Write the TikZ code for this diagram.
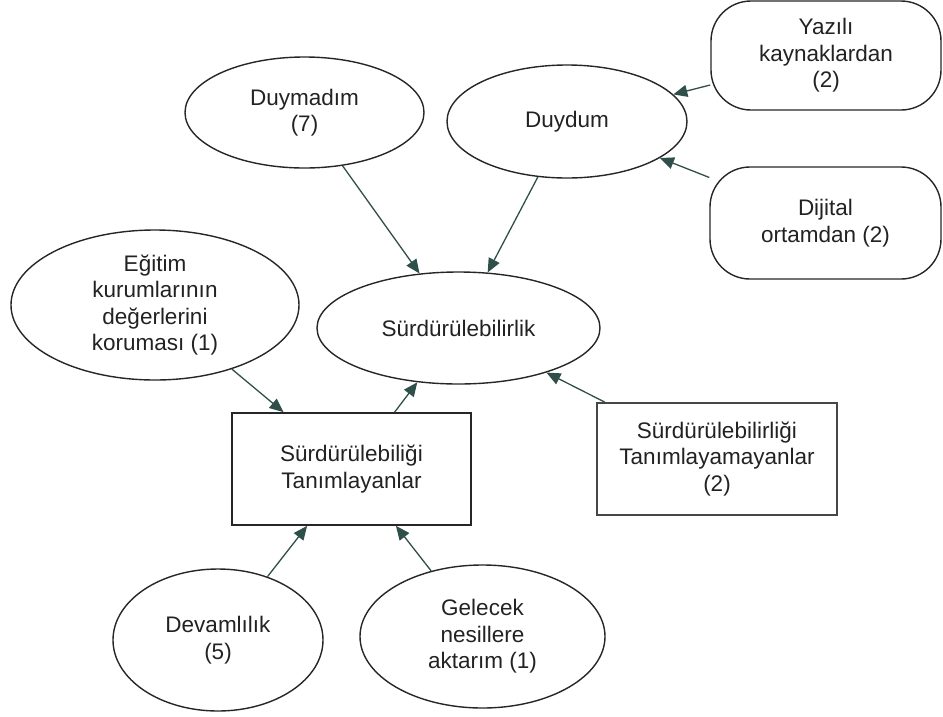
\documentclass[tikz,border=0pt]{standalone}
\usepackage{fontspec}
\setmainfont{Liberation Sans}
\usepackage{xcolor}
\usepackage{tikz}
\usetikzlibrary{shapes.geometric,arrows.meta}
\definecolor{oklar}{HTML}{2F4F4A}
\definecolor{cizgi}{HTML}{262626}
\definecolor{yazi}{HTML}{222222}

\begin{document}
\begin{tikzpicture}[x=1pt, y=-1pt,
  font=\fontsize{22.5}{26.5}\selectfont, text=yazi,
  elips/.style={draw=cizgi, ellipse, line width=1.4pt, inner sep=0pt, align=center},
  kutu/.style={draw=cizgi, rectangle, line width=1.6pt, inner sep=0pt, align=center},
  yuvarlak/.style={kutu, line width=1.4pt, rounded corners=40pt},
  ok/.style={color=oklar, draw, line width=1.3pt, -{Triangle[length=14pt,width=12pt]}}]
\useasboundingbox (0,0) rectangle (943,716);

\node[elips, minimum width=239pt, minimum height=111pt] (duymadim) at (304.5,112.5) {Duymadım\\(7)};
\node[elips, minimum width=240pt, minimum height=113pt] (duydum) at (567,121.5) {Duydum};
\node[yuvarlak, minimum width=230pt, minimum height=109pt] (yazili) at (826,55.5) {Yazılı\\kaynaklardan\\(2)};
\node[yuvarlak, minimum width=231pt, minimum height=112pt] (dijital) at (825.5,223) {Dijital\\ortamdan (2)};

\node[elips, minimum width=288pt, minimum height=150pt] (egitim) at (155,305) {Eğitim\\kurumlarının\\değerlerini\\koruması (1)};
\node[elips, minimum width=283pt, minimum height=112pt] (surd) at (458.5,328) {Sürdürülebilirlik};
\node[kutu, minimum width=239pt, minimum height=112pt] (tanimlayan) at (351.5,469) {Sürdürülebiliği\\Tanımlayanlar};
\node[kutu, draw=cizgi!85, minimum width=240pt, minimum height=112pt] (tanimlayamayan) at (717,459) {Sürdürülebilirliği\\Tanımlayamayanlar\\(2)};

\node[elips, minimum width=210pt, minimum height=142pt] (devam) at (218,640) {Devamlılık\\(5)};
\node[elips, minimum width=245pt, minimum height=143pt] (gelecek) at (482.5,636.5) {Gelecek\\nesillere\\aktarım (1)};

\path[ok] (yazili) edge (duydum);
\path[ok] (dijital) edge (duydum);
\path[ok] (duymadim) edge (surd);
\path[ok] (duydum) edge (surd);
\path[ok] (egitim) edge (tanimlayan);
\path[ok] (tanimlayan) edge (surd);
\path[ok] (tanimlayamayan) edge (surd);
\path[ok] (devam) edge (tanimlayan);
\path[ok] (gelecek) edge (tanimlayan);
\end{tikzpicture}
\end{document}
